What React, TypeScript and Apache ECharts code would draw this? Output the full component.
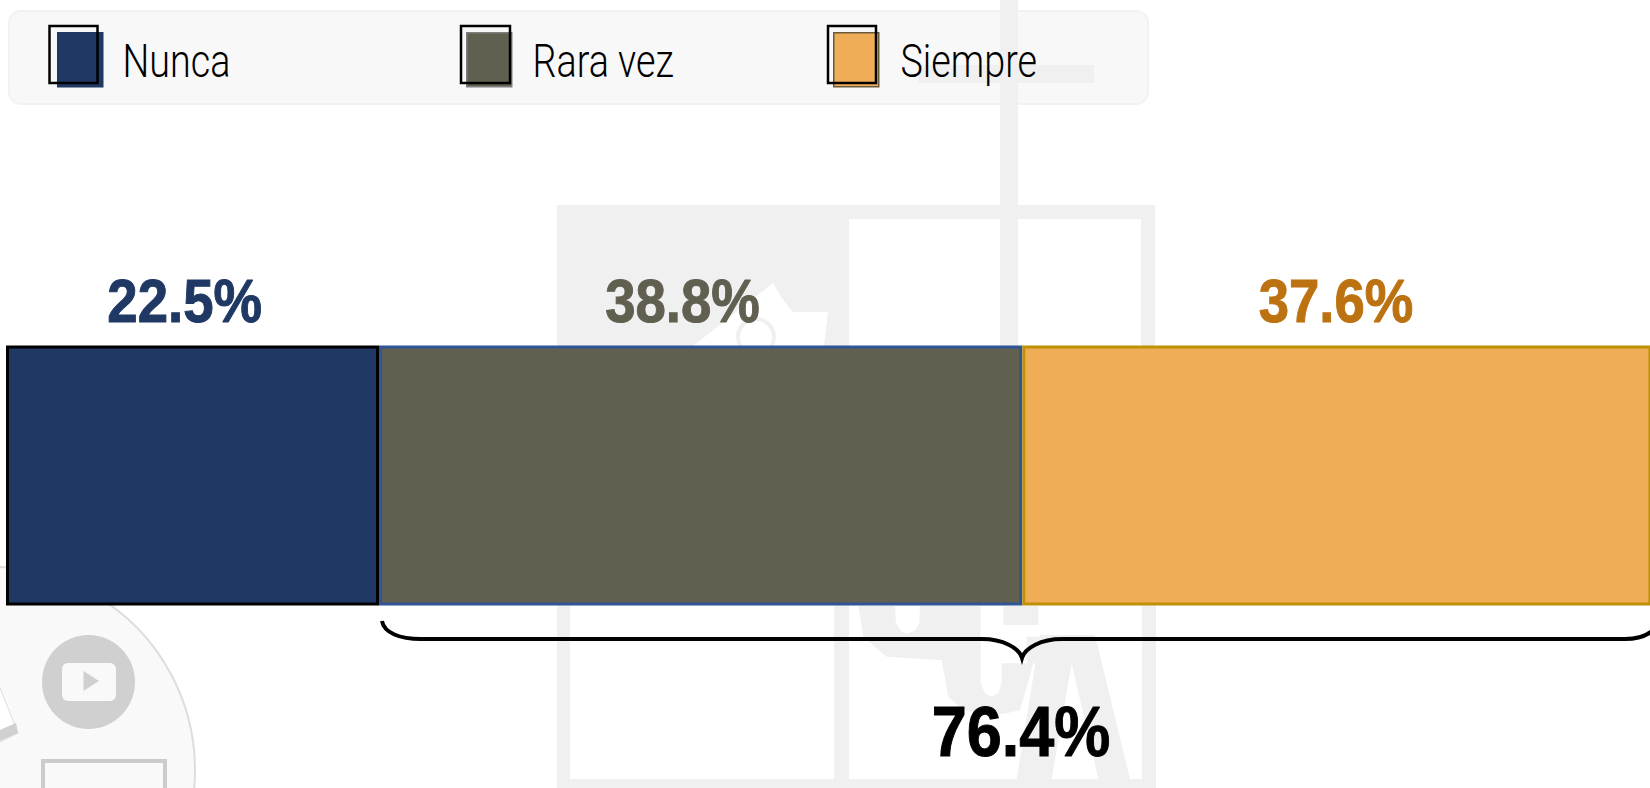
import React, { useEffect, useRef } from "react";
import * as echarts from "echarts";

const categories = ["Respuestas"];
const seriesNames = ["Nunca", "Rara vez", "Siempre"];
const percentages = [22.5, 38.8, 37.6];
// Length of each bar as drawn: in the reference the last segment runs on past the page edge.
const drawnLengths = [22.5, 38.8, 38.6];
const fillColors = ["#1f3864", "#605f50", "#f0ad58"];
const borderColors = ["#000000", "#2f5597", "#bf9000"];
const labelColors = ["#1f3864", "#605f50", "#bd7212"];
const swatchEdges = ["#1f3864", "#7f7f7f", "#6b5a3a"];
const groupedTotal = "76.4%";

const BOLD = '"Liberation Sans", Arial, sans-serif';
const LIGHT = 'Roboto, "Liberation Sans", sans-serif';
const WM = "#f0f0f0";

echarts.graphic.registerShape(
  "brace",
  echarts.graphic.extendPath(
    "M382 621 C384 633 400 639 421 639 L982 639 C1003 639 1019 648 1022 658 C1025 648 1041 639 1062 639 L1625 639 C1637 639 1646 636 1652 631",
    {}
  )
);

const rect = (x: number, y: number, width: number, height: number, fill = WM) => ({
  type: "rect",
  silent: true,
  shape: { x, y, width, height },
  style: { fill },
});
const poly = (points: number[][], fill = WM) => ({
  type: "polygon",
  silent: true,
  shape: { points },
  style: { fill },
});
const crop = (pts: number[][]) => pts.map(([x, y]) => [820 + x / 3, 600 + y / 3]);

const watermark = [
  // social-media disc, bottom left
  { type: "circle", silent: true, shape: { cx: -8, cy: 770, r: 203 }, style: { fill: "#f9f9f9", stroke: "#dddddd", lineWidth: 2 } },
  { type: "ellipse", silent: true, shape: { cx: 88.5, cy: 682, rx: 46.5, ry: 47 }, style: { fill: "#d0d0d0" } },
  { type: "rect", silent: true, shape: { x: 62, y: 663, width: 54, height: 38, r: 6 }, style: { fill: "#f9f9f9" } },
  poly([[83.5, 671], [99, 681], [83.5, 691]], "#d0d0d0"),
  { type: "rect", silent: true, shape: { x: 43, y: 761, width: 122, height: 60 }, style: { fill: "#f9f9f9", stroke: "#cccccc", lineWidth: 4 } },
  { type: "polygon", silent: true, shape: { points: [[-2, 683], [18, 733], [-2, 743]] }, style: { fill: "#ffffff", stroke: "#dddddd", lineWidth: 1 } },
  poly([[0, 730], [16, 723], [18, 733], [0, 741]], "#d0d0d0"),
  // crest
  rect(1000, 0, 18, 346),
  rect(918, 65, 176, 18),
  rect(557, 205, 598, 14),
  rect(557, 205, 292, 141),
  rect(1141, 205, 14, 141),
  poly([[693, 346], [773, 283], [781, 297], [793, 312], [828, 312], [824, 346]], "#ffffff"),
  { type: "circle", silent: true, shape: { cx: 756, cy: 337, r: 18 }, style: { fill: "none", stroke: WM, lineWidth: 4 } },
  rect(557, 605, 13, 183),
  rect(834, 605, 15, 183),
  rect(1142, 605, 14, 183),
  rect(557, 779, 599, 9),
  // letters
  poly(crop([[115, 18], [225, 18], [228, 70], [245, 95], [262, 100], [285, 92], [298, 70], [300, 18], [482, 18], [482, 250], [495, 280], [515, 290], [535, 280], [545, 250], [545, 190], [640, 190], [600, 330], [560, 340], [500, 345], [430, 330], [385, 290], [365, 180], [270, 175], [200, 170], [130, 110]])),
  poly(crop([[550, 18], [655, 18], [655, 75], [550, 75]])),
  poly(crop([[620, 110], [660, 110], [660, 190], [620, 190]])),
  poly(crop([[660, 105], [825, 105], [930, 537], [835, 537], [755, 190], [695, 537], [590, 537]])),
];

const legendOutlines = [
  [49.5, 26, 48, 57],
  [461, 26, 49, 57],
  [828, 26, 48, 57],
].map(([x, y, width, height]) => ({
  type: "rect",
  z: 10,
  silent: true,
  shape: { x, y, width, height },
  style: { fill: "none", stroke: "#000000", lineWidth: 2.5 },
}));

const legendLefts = [57, 466, 833];
const legendTextLefts = [122.5, 532.5, 900.5];
const labelCenters = [184.7, 682.5, 1336];

export default function App() {
  const ref = useRef<HTMLDivElement>(null);
  useEffect(() => {
    const chart = echarts.init(ref.current!, undefined, { renderer: "svg" });
    chart.setOption({
      animation: false,
      backgroundColor: "#ffffff",
      grid: { left: 6, right: 0, top: 345.5, height: 260, containLabel: false },
      xAxis: { type: "value", min: 0, max: 99.16, show: false },
      yAxis: { type: "category", data: categories, show: false },
      legend: seriesNames.map((name, i) => ({
        data: [{ name, itemStyle: { color: fillColors[i], borderColor: swatchEdges[i], borderWidth: 1.5 } }],
        left: legendLefts[i],
        top: 32,
        padding: 0,
        itemWidth: 45,
        itemHeight: 54,
        icon: "rect",
        selectedMode: false,
        formatter: () => "",
      })),
      series: seriesNames.map((name, i) => ({
        name,
        type: "bar",
        stack: "total",
        barWidth: "100%",
        z: [4, 2, 3][i],
        data: [drawnLengths[i]],
        itemStyle: { color: fillColors[i], borderColor: borderColors[i], borderWidth: 3 },
      })),
      graphic: [
        { type: "rect", silent: true, shape: { x: 9, y: 11, width: 1139, height: 93, r: 12 }, style: { fill: "#f8f8f8", stroke: "#f2f2f2", lineWidth: 2 } },
        ...watermark,
        ...legendOutlines,
        ...seriesNames.map((name, i) => ({
          type: "text",
          z: 10,
          x: legendTextLefts[i],
          y: 61,
          scaleX: 0.82,
          style: { text: name, fontFamily: LIGHT, fontWeight: 300, fontSize: 46, fill: "#000000", align: "left", verticalAlign: "middle" },
        })),
        ...percentages.map((p, i) => ({
          type: "text",
          z: 10,
          x: labelCenters[i],
          y: 300,
          scaleX: 0.88,
          style: { text: p.toFixed(1) + "%", fontFamily: BOLD, fontWeight: "bold", fontSize: 62, fill: labelColors[i], stroke: labelColors[i], lineWidth: 1, align: "center", verticalAlign: "middle" },
        })),
        { type: "brace", x: 0, y: 0, z: 5, silent: true, style: { fill: "none", stroke: "#000000", lineWidth: 4 } },
        {
          type: "text",
          z: 5,
          x: 1021,
          y: 732,
          scaleX: 0.9,
          style: { text: groupedTotal, fontFamily: BOLD, fontWeight: "bold", fontSize: 70, fill: "#000000", stroke: "#000000", lineWidth: 1, align: "center", verticalAlign: "middle" },
        },
      ],
    });
    return () => chart.dispose();
  }, []);
  return <div ref={ref} style={{ position: "absolute", left: 0, top: 0, width: 1650, height: 788 }} />;
}
